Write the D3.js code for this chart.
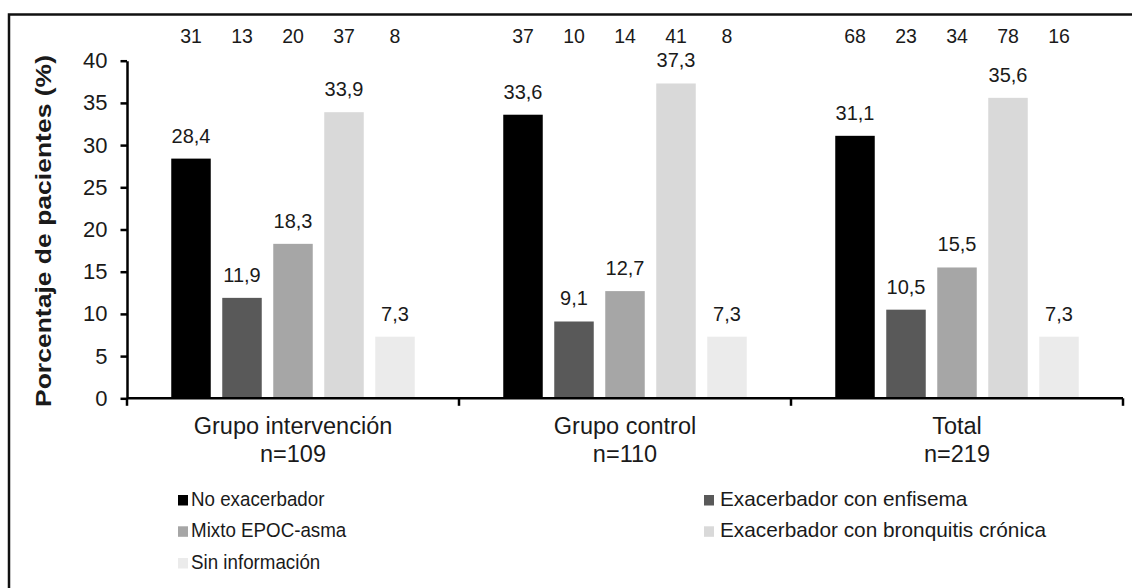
<!DOCTYPE html>
<html>
<head>
<meta charset="utf-8">
<script src="https://cdn.jsdelivr.net/npm/d3@7"></script>
<style>
  html, body { margin: 0; padding: 0; background: #fff; }
  svg { display: block; }
  text { font-family: "Liberation Sans", Arial, sans-serif; fill: #1a1a1a; }
</style>
</head>
<body>
<svg id="chart" width="1132" height="588"></svg>
<script>
// ---- data ----
const categories = ["Grupo intervención", "Grupo control", "Total"];
const categorySizes = ["n=109", "n=110", "n=219"];
const series = ["No exacerbador", "Exacerbador con enfisema", "Mixto EPOC-asma", "Exacerbador con bronquitis crónica", "Sin información"];
const percentages = [
  [28.4, 11.9, 18.3, 33.9, 7.3],
  [33.6, 9.1, 12.7, 37.3, 7.3],
  [31.1, 10.5, 15.5, 35.6, 7.3]
];
const counts = [
  [31, 13, 20, 37, 8],
  [37, 10, 14, 41, 8],
  [68, 23, 34, 78, 16]
];
const yTicks = [0, 5, 10, 15, 20, 25, 30, 35, 40];
const legendOrder = ["No exacerbador", "Exacerbador con enfisema", "Mixto EPOC-asma", "Exacerbador con bronquitis crónica", "Sin información"];

// ---- layout / style ----
const colors = ["#000000", "#595959", "#a6a6a6", "#d9d9d9", "#ebebeb"];
const svg = d3.select("#chart");

// outer frame
svg.append("rect")
  .attr("x", 9).attr("y", 14.5).attr("width", 1300).attr("height", 800)
  .attr("fill", "none").attr("stroke", "#111").attr("stroke-width", 2.5);

const x0 = d3.scaleBand().domain(categories).range([127, 1123]).paddingInner(0).paddingOuter(0);
const x1 = d3.scaleBand().domain(series).range([44.25, 287.75]).paddingInner(0.2255).paddingOuter(0);
const y = d3.scaleLinear().domain([0, 40]).range([398.3, 60.7]);
const color = d3.scaleOrdinal().domain(series).range(colors);

// bars
const groups = svg.append("g").selectAll("g")
  .data(categories)
  .join("g")
  .attr("transform", d => `translate(${x0(d)},0)`);

groups.selectAll("rect")
  .data((c, i) => series.map((s, j) => ({ s, v: percentages[i][j], n: counts[i][j] })))
  .join("rect")
  .attr("x", d => x1(d.s))
  .attr("width", x1.bandwidth())
  .attr("y", d => y(d.v))
  .attr("height", d => y(0) - y(d.v))
  .attr("fill", d => color(d.s));

// value labels
groups.selectAll("text.val")
  .data((c, i) => series.map((s, j) => ({ s, v: percentages[i][j] })))
  .join("text")
  .attr("class", "val")
  .attr("x", d => x1(d.s) + x1.bandwidth() / 2)
  .attr("y", d => y(d.v) - 16)
  .attr("text-anchor", "middle")
  .style("font-size", "20px")
  .text(d => d3.format(".1f")(d.v).replace(".", ","));

// count labels on top
groups.selectAll("text.cnt")
  .data((c, i) => series.map((s, j) => ({ s, n: counts[i][j] })))
  .join("text")
  .attr("class", "cnt")
  .attr("x", d => x1(d.s) + x1.bandwidth() / 2)
  .attr("y", 43.3)
  .attr("text-anchor", "middle")
  .style("font-size", "19.5px")
  .text(d => d.n);

// y axis
const yAxis = svg.append("g")
  .attr("transform", "translate(127,0)")
  .call(d3.axisLeft(y).tickValues(yTicks).tickSize(6.5).tickPadding(13).tickSizeOuter(0));
yAxis.select(".domain").attr("stroke", "#000").attr("stroke-width", 2.5);
yAxis.selectAll(".tick line").attr("stroke", "#000").attr("stroke-width", 2.5);
yAxis.selectAll(".tick text")
  .style("font-size", "22px")
  .style("font-family", "'Liberation Sans', Arial, sans-serif")
  .attr("fill", "#1a1a1a");

// x axis
const xAxis = svg.append("g")
  .attr("transform", `translate(0,${y(0)})`)
  .call(d3.axisBottom(x0).tickSize(0).tickFormat(""));
xAxis.select(".domain").remove();
xAxis.append("line")
  .attr("x1", 127).attr("x2", 1123).attr("y1", 0).attr("y2", 0)
  .attr("stroke", "#000").attr("stroke-width", 2.5);
const boundaries = categories.map(c => x0(c)).concat([x0.range()[1]]);
xAxis.selectAll("line.bound")
  .data(boundaries)
  .join("line")
  .attr("class", "bound")
  .attr("x1", d => d).attr("x2", d => d)
  .attr("y1", 0).attr("y2", 7.5)
  .attr("stroke", "#000").attr("stroke-width", 2.5);

// category labels
const catLabels = svg.append("g").selectAll("text")
  .data(categories)
  .join("text")
  .attr("x", d => x0(d) + x0.bandwidth() / 2)
  .attr("y", 433.5)
  .attr("text-anchor", "middle")
  .style("font-size", "23.5px");
catLabels.append("tspan").text(d => d);
catLabels.append("tspan")
  .attr("x", d => x0(d) + x0.bandwidth() / 2)
  .attr("dy", 28)
  .text((d, i) => categorySizes[i]);

// y axis title
svg.append("text")
  .attr("transform", "translate(51,231) rotate(-90)")
  .attr("text-anchor", "middle")
  .attr("textLength", 352)
  .attr("lengthAdjust", "spacingAndGlyphs")
  .style("font-size", "22px")
  .style("font-weight", "bold")
  .text("Porcentaje de pacientes (%)");

// legend
const legendCols = [178, 704];
const legendFont = ["20.5px", "20.8px"];
const legendSqueeze = [0.915, 1];
const legendRows = [506, 537.3, 569];
const legend = svg.append("g").selectAll("g")
  .data(legendOrder)
  .join("g")
  .attr("transform", (d, i) => `translate(${legendCols[i % 2]},${legendRows[Math.floor(i / 2)]})`);
legend.append("rect")
  .attr("x", 0).attr("y", -11).attr("width", 10).attr("height", 10.5)
  .attr("fill", d => color(d));
legend.append("text")
  .attr("x", (d, i) => i % 2 === 0 ? 13 : 16)
  .attr("y", 0)
  .style("font-size", (d, i) => legendFont[i % 2])
  .text(d => d)
  .each(function(d, i) {
    const f = legendSqueeze[i % 2];
    if (f !== 1) {
      const len = this.getComputedTextLength();
      d3.select(this).attr("textLength", len * f).attr("lengthAdjust", "spacingAndGlyphs");
    }
  });
</script>
</body>
</html>
